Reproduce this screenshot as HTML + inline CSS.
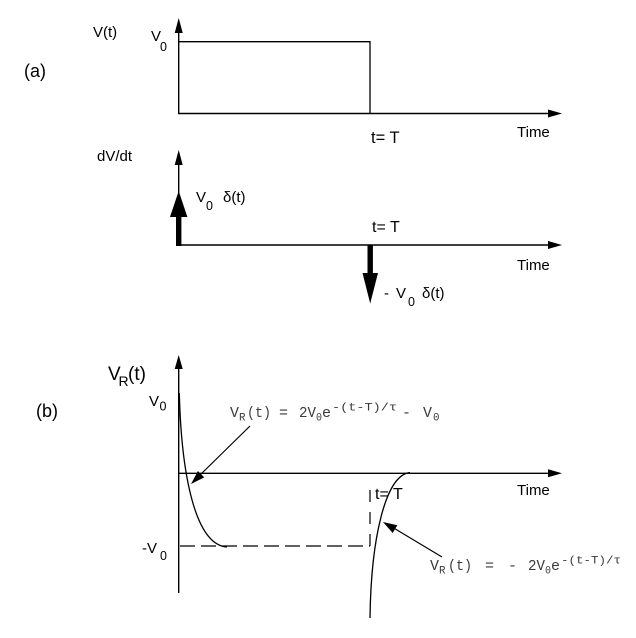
<!DOCTYPE html>
<html>
<head>
<meta charset="utf-8">
<style>
  html, body { margin: 0; padding: 0; background: #fff; }
  svg { display: block; }
  .s { font-family: "Liberation Sans", Arial, sans-serif; fill: #000; }
  .m { font-family: "Liberation Mono", "Courier New", monospace; fill: #3a3a3a; }
</style>
</head>
<body>
<svg width="636" height="638" viewBox="0 0 636 638" xmlns="http://www.w3.org/2000/svg">
  <rect x="0" y="0" width="636" height="638" fill="#fff"/>

  <!-- ===== (a) top: V(t) ===== -->
  <text class="s" x="93" y="37" font-size="15">V(t)</text>
  <text class="s" x="151" y="41" font-size="15">V</text>
  <text class="s" x="160" y="51" font-size="12.5">0</text>
  <text class="s" x="24" y="77" font-size="18">(a)</text>

  <!-- y axis -->
  <line x1="178.7" y1="114" x2="178.7" y2="30" stroke="#000" stroke-width="1.4"/>
  <polygon points="178.7,18 174.7,33 182.7,33" fill="#000"/>
  <!-- pulse -->
  <polyline points="178.7,41.7 370,41.7 370,113.5" fill="none" stroke="#000" stroke-width="1.3"/>
  <!-- x axis -->
  <line x1="178" y1="113.5" x2="550" y2="113.5" stroke="#000" stroke-width="1.4"/>
  <polygon points="562,113.5 548,109.5 548,117.5" fill="#000"/>
  <text class="s" x="371" y="143" font-size="16.5">t= T</text>
  <text class="s" x="517" y="137" font-size="15">Time</text>

  <!-- ===== dV/dt ===== -->
  <text class="s" x="97" y="161" font-size="15">dV/dt</text>
  <line x1="178.7" y1="245" x2="178.7" y2="162" stroke="#000" stroke-width="1.4"/>
  <polygon points="178.7,150 174.7,165 182.7,165" fill="#000"/>
  <!-- thick up arrow -->
  <rect x="176" y="214" width="5.4" height="32" fill="#000"/>
  <polygon points="178.7,191 170,217 187.4,217" fill="#000"/>
  <text class="s" x="196" y="202" font-size="15">V</text>
  <text class="s" x="206" y="210" font-size="12.5">0</text>
  <text class="s" x="223" y="202" font-size="15">δ(t)</text>

  <!-- x axis -->
  <line x1="178" y1="245" x2="550" y2="245" stroke="#000" stroke-width="1.4"/>
  <polygon points="562,245 548,241 548,249" fill="#000"/>
  <text class="s" x="372" y="232" font-size="16">t= T</text>
  <text class="s" x="517" y="270" font-size="15">Time</text>

  <!-- thick down arrow -->
  <rect x="367.5" y="245" width="5.4" height="30" fill="#000"/>
  <polygon points="370.2,303.5 362.5,273 378,273" fill="#000"/>
  <text class="s" x="384" y="298" font-size="15">-</text>
  <text class="s" x="396" y="298" font-size="15">V</text>
  <text class="s" x="408" y="306" font-size="12.5">0</text>
  <text class="s" x="422" y="298" font-size="15">δ(t)</text>

  <!-- ===== (b) ===== -->
  <text class="s" x="108" y="380" font-size="19">V</text>
  <text class="s" x="118.5" y="386" font-size="14">R</text>
  <text class="s" x="128" y="380" font-size="19">(t)</text>
  <text class="s" x="36" y="417" font-size="18">(b)</text>
  <text class="s" x="149" y="406" font-size="15">V</text>
  <text class="s" x="159.5" y="410.5" font-size="12.5">0</text>
  <text class="s" x="142" y="553" font-size="15">-V</text>
  <text class="s" x="160" y="560" font-size="12.5">0</text>

  <!-- y axis -->
  <line x1="178.7" y1="593" x2="178.7" y2="366" stroke="#000" stroke-width="1.4"/>
  <polygon points="178.7,355 174.7,369 182.7,369" fill="#000"/>
  <!-- x axis -->
  <line x1="178" y1="473.3" x2="550" y2="473.3" stroke="#000" stroke-width="1.4"/>
  <polygon points="562,473.3 548,469.3 548,477.3" fill="#000"/>
  <text class="s" x="517" y="495" font-size="15">Time</text>

  <!-- dashed -V0 level -->
  <line x1="180" y1="546" x2="370" y2="546" stroke="#000" stroke-width="1.2" stroke-dasharray="15 6"/>
  <line x1="370" y1="546" x2="370" y2="486" stroke="#000" stroke-width="1.2" stroke-dasharray="12 10"/>

  <text class="s" x="375" y="499" font-size="16">t= T</text>

  <!-- decay curve 1 -->
  <path d="M179.3,393 C181.5,478 196,545 227,547" fill="none" stroke="#000" stroke-width="1.3"/>
  <!-- rising curve 2 -->
  <path d="M370,618 C371,540 385,475 410,472.5" fill="none" stroke="#000" stroke-width="1.3"/>

  <!-- pointer 1 -->
  <line x1="250" y1="426" x2="199" y2="476" stroke="#000" stroke-width="1.2"/>
  <polygon points="191,484 204.2,477.4 197.9,471" fill="#000"/>
  <!-- pointer 2 -->
  <line x1="442" y1="557" x2="392" y2="527" stroke="#000" stroke-width="1.2"/>
  <polygon points="383,522 397.3,525.3 392.7,533" fill="#000"/>

  <!-- label 1 -->
  <text class="m" x="230" y="417" font-size="15" textLength="9" lengthAdjust="spacingAndGlyphs">V</text>
  <text class="m" x="239" y="420.5" font-size="11" textLength="6.5" lengthAdjust="spacingAndGlyphs">R</text>
  <text class="m" x="247" y="417" font-size="15" textLength="24" lengthAdjust="spacingAndGlyphs">(t)</text>
  <text class="m" x="279" y="417" font-size="15" textLength="9" lengthAdjust="spacingAndGlyphs">=</text>
  <text class="m" x="299" y="417" font-size="15" textLength="17" lengthAdjust="spacingAndGlyphs">2V</text>
  <text class="m" x="316" y="420.5" font-size="11" textLength="6" lengthAdjust="spacingAndGlyphs">0</text>
  <text class="m" x="322" y="417" font-size="15" textLength="9" lengthAdjust="spacingAndGlyphs">e</text>
  <text class="m" x="332" y="410.5" font-size="11" textLength="65" lengthAdjust="spacingAndGlyphs">-(t-T)/τ</text>
  <text class="m" x="402" y="417" font-size="15" textLength="9" lengthAdjust="spacingAndGlyphs">-</text>
  <text class="m" x="423" y="417" font-size="15" textLength="9" lengthAdjust="spacingAndGlyphs">V</text>
  <text class="m" x="433" y="420.5" font-size="11" textLength="6.5" lengthAdjust="spacingAndGlyphs">0</text>

  <!-- label 2 -->
  <text class="m" x="430" y="570" font-size="15" textLength="9" lengthAdjust="spacingAndGlyphs">V</text>
  <text class="m" x="439" y="573.5" font-size="11" textLength="6.5" lengthAdjust="spacingAndGlyphs">R</text>
  <text class="m" x="448" y="570" font-size="15" textLength="24" lengthAdjust="spacingAndGlyphs">(t)</text>
  <text class="m" x="485" y="570" font-size="15" textLength="9" lengthAdjust="spacingAndGlyphs">=</text>
  <text class="m" x="508" y="570" font-size="15" textLength="9" lengthAdjust="spacingAndGlyphs">-</text>
  <text class="m" x="528" y="570" font-size="15" textLength="17" lengthAdjust="spacingAndGlyphs">2V</text>
  <text class="m" x="545" y="573.5" font-size="11" textLength="6" lengthAdjust="spacingAndGlyphs">0</text>
  <text class="m" x="551" y="570" font-size="15" textLength="9" lengthAdjust="spacingAndGlyphs">e</text>
  <text class="m" x="561" y="563.5" font-size="11" textLength="60" lengthAdjust="spacingAndGlyphs">-(t-T)/τ</text>
</svg>
</body>
</html>
